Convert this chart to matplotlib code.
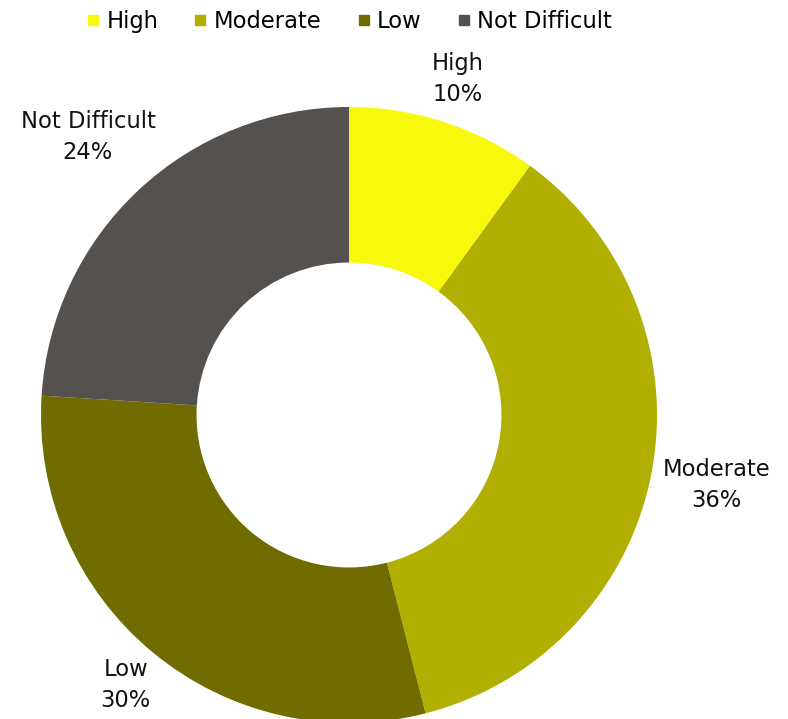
import numpy as np
import matplotlib.pyplot as plt
from matplotlib.lines import Line2D

plt.rcParams['font.family'] = ['DejaVu Sans']

categories = ['High', 'Moderate', 'Low', 'Not Difficult']
shares = [10, 36, 30, 24]
colors = ['#F8F80C', '#B0AF02', '#706C00', '#55514E']
label_dist = [1.147, 1.214, 1.137, 1.238]

fig = plt.figure(figsize=(7.88, 7.19), dpi=100)
ax = fig.add_axes([0, 0, 1, 1])

cx, cy, r = 349, 304, 308
wedges, _ = ax.pie(shares, colors=colors, startangle=90, counterclock=False,
                   center=(cx, cy), radius=r, frame=True,
                   wedgeprops=dict(width=r * 0.505, linewidth=0))
ax.set_xlim(0, 788)
ax.set_ylim(0, 719)
ax.set_aspect('equal')
ax.axis('off')

# category / percentage labels outside each wedge
for w, name, val, d in zip(wedges, categories, shares, label_dist):
    ang = np.deg2rad((w.theta1 + w.theta2) / 2)
    x = cx + r * d * np.cos(ang)
    y = cy + r * d * np.sin(ang)
    ax.text(x, y, f'{name}\n{val}%', ha='center', va='center',
            fontsize=16.3, color='#111111', linespacing=1.45)

handles = [Line2D([], [], marker='s', linestyle='none', markersize=6.5,
                  markerfacecolor=c, markeredgecolor=c) for c in colors]
fig.legend(handles, categories, loc='upper center', ncol=4,
           bbox_to_anchor=(347 / 788, 1.014), frameon=False, fontsize=16.3,
           handletextpad=0.1, columnspacing=1.35, handlelength=1.0)

fig.savefig('out.png', dpi=100, facecolor='white')
